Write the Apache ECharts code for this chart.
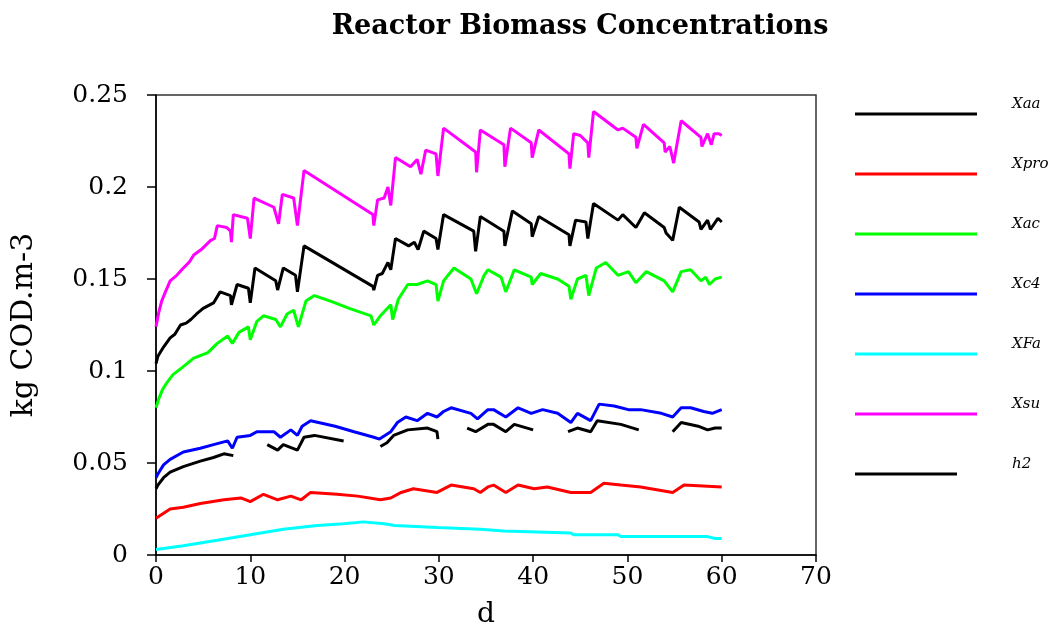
<!DOCTYPE html>
<html>
<head>
<meta charset="utf-8">
<script src="https://cdn.jsdelivr.net/npm/echarts@6/dist/echarts.min.js"></script>
<style>html,body{margin:0;padding:0;background:#fff}#c{width:1059px;height:625px}</style>
</head>
<body>
<div id="c"></div>
<script>
const titleText = 'Reactor Biomass Concentrations';
const xName = 'd';
const yName = 'kg COD.m-3';
const xTicks = [0, 10, 20, 30, 40, 50, 60, 70];
const yTicks = [0, 0.05, 0.1, 0.15, 0.2, 0.25];
const seriesNames = ['Xaa', 'Xpro', 'Xac', 'Xc4', 'XFa', 'Xsu', 'h2'];
const seriesColors = ['#000000', '#ff0000', '#00ff00', '#0000ff', '#00ffff', '#ff00ff', '#000000'];

const Xaa = [[0,0.104],[0.2,0.108],[0.8,0.113],[1.5,0.118],[2.0,0.120],[2.6,0.125],[3.2,0.126],[3.7,0.128],[4.3,0.131],[5.0,0.134],[6.1,0.137],[6.8,0.143],[7.9,0.141],[8.0,0.136],[8.6,0.147],[9.8,0.145],[10.0,0.137],[10.5,0.156],[12.7,0.149],[12.9,0.144],[13.5,0.156],[14.8,0.152],[15.0,0.143],[15.7,0.168],[23.0,0.146],[23.1,0.144],[23.5,0.152],[24.0,0.153],[24.6,0.159],[24.9,0.155],[25.4,0.172],[26.8,0.168],[27.4,0.170],[27.8,0.166],[28.4,0.176],[29.7,0.172],[29.9,0.166],[30.5,0.185],[33.7,0.176],[33.9,0.165],[34.4,0.184],[36.9,0.176],[37.0,0.168],[37.8,0.187],[39.8,0.180],[39.9,0.173],[40.6,0.184],[43.8,0.174],[43.9,0.168],[44.5,0.182],[45.6,0.181],[45.8,0.172],[46.4,0.191],[49.0,0.182],[49.5,0.185],[50.9,0.178],[51.8,0.186],[53.9,0.178],[54.1,0.175],[54.8,0.171],[55.5,0.189],[57.6,0.181],[57.8,0.177],[58.5,0.182],[58.8,0.177],[59.6,0.183],[60,0.181]];
const Xpro = [[0,0.020],[0.2,0.021],[1.5,0.025],[2.9,0.026],[4.7,0.028],[7.2,0.030],[9.0,0.031],[10.0,0.029],[11.4,0.033],[12.9,0.030],[14.3,0.032],[15.4,0.030],[16.4,0.034],[19.2,0.033],[21.4,0.032],[23.8,0.030],[24.9,0.031],[26.0,0.034],[27.3,0.036],[29.8,0.034],[31.3,0.038],[33.7,0.036],[34.4,0.034],[35.2,0.037],[35.8,0.038],[37.1,0.034],[38.4,0.038],[40.1,0.036],[41.5,0.037],[44.0,0.034],[46.1,0.034],[47.5,0.039],[49.3,0.038],[51.4,0.037],[54.8,0.034],[56.0,0.038],[60,0.037]];
const Xac = [[0,0.080],[0.3,0.085],[0.7,0.090],[1.2,0.094],[1.8,0.098],[2.8,0.102],[4.0,0.107],[5.5,0.110],[6.5,0.115],[7.6,0.119],[8.1,0.115],[8.8,0.121],[9.8,0.124],[10.0,0.117],[10.7,0.127],[11.4,0.130],[12.7,0.128],[13.2,0.124],[13.9,0.131],[14.6,0.133],[15.1,0.124],[15.9,0.138],[16.8,0.141],[18.5,0.138],[20.5,0.134],[22.8,0.130],[23.1,0.125],[23.8,0.130],[24.9,0.136],[25.1,0.128],[25.7,0.139],[26.7,0.147],[27.7,0.147],[28.8,0.149],[29.7,0.147],[29.9,0.138],[30.5,0.149],[31.6,0.156],[33.4,0.150],[34.0,0.142],[34.8,0.152],[35.2,0.155],[36.6,0.151],[37.1,0.143],[38.0,0.155],[39.8,0.151],[39.9,0.147],[40.8,0.153],[42.6,0.150],[43.8,0.146],[44.0,0.139],[44.7,0.150],[45.6,0.152],[45.9,0.141],[46.7,0.156],[47.7,0.159],[49.0,0.152],[50.1,0.154],[50.9,0.148],[52.0,0.154],[53.9,0.149],[54.8,0.143],[55.7,0.154],[56.7,0.155],[57.8,0.149],[58.3,0.151],[58.7,0.147],[59.3,0.150],[60,0.151]];
const Xc4 = [[0,0.042],[0.2,0.044],[0.8,0.049],[1.5,0.052],[2.9,0.056],[4.7,0.058],[6.1,0.060],[7.6,0.062],[8.1,0.058],[8.6,0.064],[10.0,0.065],[10.7,0.067],[12.5,0.067],[13.2,0.064],[14.3,0.068],[15.0,0.065],[15.5,0.070],[16.4,0.073],[19.0,0.070],[21.0,0.067],[23.1,0.064],[23.7,0.063],[24.9,0.067],[25.6,0.072],[26.5,0.075],[27.7,0.073],[28.8,0.077],[29.8,0.075],[30.5,0.078],[31.3,0.080],[33.4,0.077],[34.1,0.074],[35.2,0.079],[35.8,0.079],[37.1,0.075],[38.4,0.080],[39.8,0.077],[41.0,0.079],[42.6,0.077],[44.0,0.072],[44.7,0.077],[46.1,0.073],[47.0,0.082],[48.6,0.081],[50.1,0.079],[51.4,0.079],[53.6,0.077],[54.8,0.075],[55.7,0.080],[56.7,0.080],[58.1,0.078],[59.0,0.077],[60,0.079]];
const XFa = [[0,0.003],[0.2,0.004],[2.9,0.005],[6.5,0.008],[10,0.011],[13.5,0.014],[17.1,0.016],[19.9,0.017],[22.0,0.018],[24.2,0.017],[25.3,0.016],[29.8,0.015],[34.4,0.014],[36.9,0.013],[37.0,0.012],[44.0,0.012],[44.3,0.011],[49.0,0.011],[49.3,0.010],[58.5,0.010],[59.3,0.009],[60,0.009]];
const Xsu = [[0,0.124],[0.3,0.132],[0.6,0.138],[1.0,0.143],[1.5,0.149],[2.2,0.152],[2.9,0.156],[3.5,0.159],[4.0,0.163],[4.8,0.166],[5.8,0.171],[6.2,0.172],[6.5,0.179],[7.5,0.178],[7.9,0.176],[8.0,0.170],[8.2,0.185],[9.7,0.183],[10.0,0.172],[10.4,0.194],[12.5,0.189],[13.0,0.180],[13.4,0.196],[14.6,0.194],[15.0,0.179],[15.7,0.209],[23.0,0.185],[23.1,0.179],[23.5,0.193],[24.2,0.194],[24.6,0.200],[24.9,0.190],[25.4,0.216],[27.0,0.211],[27.7,0.215],[28.1,0.207],[28.6,0.220],[29.7,0.218],[29.9,0.206],[30.5,0.232],[33.9,0.219],[34.0,0.208],[34.4,0.231],[36.9,0.223],[37.0,0.211],[37.6,0.232],[39.8,0.224],[39.9,0.216],[40.6,0.231],[43.8,0.218],[43.9,0.210],[44.3,0.229],[45.0,0.228],[45.8,0.224],[45.9,0.216],[46.4,0.241],[49.0,0.231],[49.5,0.232],[50.9,0.227],[51.0,0.221],[51.7,0.234],[53.9,0.224],[54.0,0.219],[54.5,0.222],[54.9,0.213],[55.7,0.236],[57.8,0.227],[57.9,0.222],[58.5,0.229],[58.9,0.223],[59.2,0.229],[59.7,0.229],[60,0.228]];
const h2 = [[0,0.036],[0.2,0.038],[0.8,0.042],[1.5,0.045],[2.9,0.048],[4.7,0.051],[6.1,0.053],[7.2,0.055],[8.2,0.054],[8.3,null],[11.8,0.060],[12.9,0.057],[13.5,0.060],[15.0,0.057],[15.7,0.064],[16.8,0.065],[19.9,0.062],[20.0,null],[23.8,0.059],[24.5,0.061],[25.2,0.065],[26.7,0.068],[28.8,0.069],[29.8,0.067],[29.9,0.063],[30.0,null],[33.0,0.069],[33.9,0.067],[35.2,0.071],[35.8,0.071],[37.1,0.067],[38.0,0.071],[40.0,0.068],[40.1,null],[43.7,0.067],[44.7,0.069],[46.1,0.067],[46.8,0.073],[49.3,0.071],[51.2,0.068],[51.3,null],[54.8,0.067],[55.7,0.072],[57.5,0.070],[58.5,0.068],[59.3,0.069],[60,0.069]];

const seriesData = [Xaa, Xpro, Xac, Xc4, XFa, Xsu, h2];

const chart = echarts.init(document.getElementById('c'), null, {renderer: 'canvas'});
const serif = 'DejaVu Serif';

const series = seriesNames.map((n, i) => ({
  name: n,
  type: 'line',
  data: seriesData[i].map(p => [p[0], p[1] === null ? '-' : p[1]]),
  showSymbol: false,
  symbol: 'none',
  connectNulls: false,
  lineStyle: {color: seriesColors[i], width: 3},
  itemStyle: {color: seriesColors[i]},
  z: 3
}));

const legendGraphics = [];
seriesNames.forEach((n, i) => {
  const y = 114 + i * 60;
  const len = n === 'h2' ? 102 : 122;
  legendGraphics.push({
    type: 'line', shape: {x1: 855, y1: y, x2: 855 + len, y2: y},
    style: {stroke: seriesColors[i], lineWidth: 3}
  });
  legendGraphics.push({
    type: 'text', left: 1012, top: y - 17,
    style: {text: n, font: 'italic 15px "DejaVu Serif"', fill: '#000'}
  });
});

chart.setOption({
  animation: false,
  backgroundColor: '#fff',
  title: {
    text: titleText, left: 575, top: 8, textAlign: 'center',
    textStyle: {fontFamily: serif, fontWeight: 'bold', fontSize: 27, color: '#000'}
  },
  grid: {left: 156, right: 243, top: 95, bottom: 70, outerBoundsMode: 'none', containLabel: false, show: true, borderColor: '#333', borderWidth: 1.5, backgroundColor: 'transparent'},
  xAxis: {
    type: 'value', min: xTicks[0], max: xTicks[xTicks.length - 1], interval: 10,
    name: xName, nameLocation: 'middle', nameGap: 46,
    nameTextStyle: {fontFamily: serif, fontSize: 28, color: '#000'},
    axisLine: {show: true, lineStyle: {color: '#000', width: 1.5}},
    axisTick: {show: true, inside: false, length: 7, lineStyle: {color: '#000', width: 1.5}},
    axisLabel: {fontFamily: serif, fontSize: 25, color: '#000', margin: 10},
    splitLine: {show: false}
  },
  yAxis: {
    type: 'value', min: yTicks[0], max: yTicks[yTicks.length - 1], interval: 0.05,
    name: yName, nameLocation: 'middle', nameGap: 117, nameRotate: 90,
    nameTextStyle: {fontFamily: serif, fontSize: 30, color: '#000'},
    axisLine: {show: true, lineStyle: {color: '#000', width: 1.5}},
    axisTick: {show: true, inside: false, length: 9, lineStyle: {color: '#000', width: 1.5}},
    axisLabel: {fontFamily: serif, fontSize: 25, color: '#000', margin: 28, formatter: v => String(+v.toFixed(2))},
    splitLine: {show: false}
  },
  graphic: legendGraphics,
  series: series
});
</script>
</body>
</html>
